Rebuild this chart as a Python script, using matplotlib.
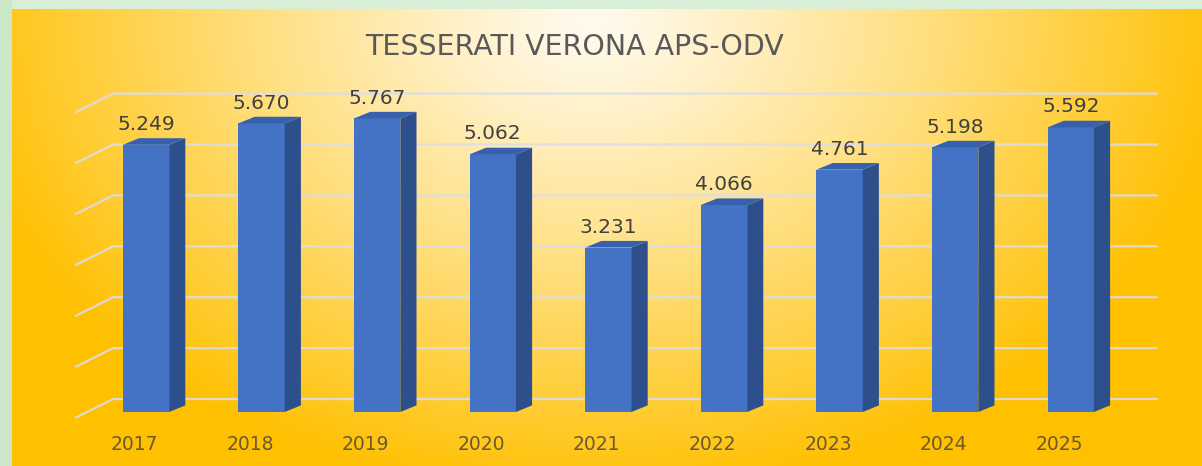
import numpy as np
import matplotlib.pyplot as plt
from matplotlib.patches import Polygon, Rectangle
from matplotlib.colors import to_rgb

# data
years = ['2017', '2018', '2019', '2020', '2021', '2022', '2023', '2024', '2025']
members = [5249, 5670, 5767, 5062, 3231, 4066, 4761, 5198, 5592]
grid_values = [0, 1000, 2000, 3000, 4000, 5000, 6000]
title = 'TESSERATI VERONA APS-ODV'

plt.rcParams['font.family'] = ['DejaVu Sans']

fig = plt.figure(figsize=(12.02, 4.66), dpi=100)
ax = fig.add_axes([0, 0, 1, 1])
x0, x1 = -1.263, 9.135
y0, y1 = -1061, 8094
ax.set_xlim(x0, x1)
ax.set_ylim(y0, y1)
ax.axis('off')

# radial yellow/orange background
W, H = 1202, 466
xx, yy = np.meshgrid(np.arange(W), np.arange(H))
t = np.sqrt(((xx - 590) / 650.0) ** 2 + ((yy - 20) / 480.0) ** 2)
t = np.clip(t, 0, 1) ** 1.15
c_in = np.array(to_rgb('#fffaee'))
c_out = np.array(to_rgb('#ffc000'))
img = c_in[None, None, :] * (1 - t[..., None]) + c_out[None, None, :] * t[..., None]
ax.imshow(img, extent=(x0, x1, y0, y1), aspect='auto', zorder=0, interpolation='bilinear')

# light green frame
ax.add_patch(Rectangle((0, 1 - 9 / H), 1, 9 / H, transform=ax.transAxes,
                       facecolor='#d8eed6', edgecolor='none', zorder=1))
ax.add_patch(Rectangle((0, 0), 12 / W, 1, transform=ax.transAxes,
                       facecolor='#cbe7c8', edgecolor='none', zorder=1))

# 3d geometry (category units / value units)
half_w = 0.2
depth_x, depth_y = 0.14, 130
wall_dy = 255
wall_left, wall_front_left, wall_right = -0.285, -0.614, 8.754

grid_col = '#dcdde6'
for g in grid_values:
    ax.plot([wall_front_left, wall_left, wall_right],
            [g + wall_dy - 373, g + wall_dy, g + wall_dy],
            color=grid_col, lw=1.6, alpha=0.9, zorder=2, solid_capstyle='butt')

front_col = '#4472c4'
side_col = '#2d4f8c'
top_col = '#3761ad'
for i, v in enumerate(members):
    ax.bar(i, v, width=2 * half_w, color=front_col, edgecolor='none', zorder=3)
    side = Polygon([(i + half_w, 0), (i + half_w + depth_x, depth_y),
                    (i + half_w + depth_x, v + depth_y), (i + half_w, v)],
                   closed=True, facecolor=side_col, edgecolor='none', zorder=3)
    top = Polygon([(i - half_w, v), (i + half_w, v),
                   (i + half_w + depth_x, v + depth_y), (i - half_w + depth_x, v + depth_y)],
                  closed=True, facecolor=top_col, edgecolor='none', zorder=3)
    ax.add_patch(side)
    ax.add_patch(top)
    label = f'{v:,}'.replace(',', '.')
    ax.text(i, v + depth_y + 270, label, ha='center', va='center',
            fontsize=14.5, color='#404040', zorder=4)
    ax.text(i - 0.1, -640, years[i], ha='center', va='center',
            fontsize=13.5, color='#6a5a30', zorder=4)

ax.text(3.71, 7170, title, ha='center', va='center', fontsize=20.5,
        color='#595959', zorder=4)

fig.savefig('out.png', dpi=100)
